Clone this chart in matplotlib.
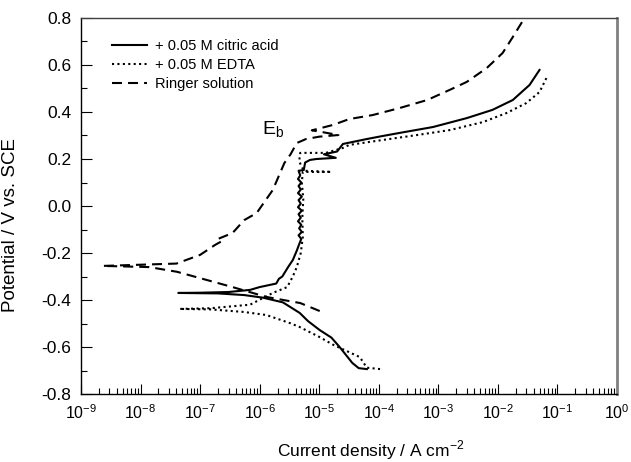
import matplotlib
matplotlib.use("Agg")
import matplotlib.pyplot as plt
from matplotlib.ticker import LogLocator, LogFormatterMathtext, MultipleLocator, FormatStrFormatter, NullFormatter

plt.rcParams['font.family'] = ['Liberation Sans', 'DejaVu Sans']
plt.rcParams['mathtext.fontset'] = 'custom'
plt.rcParams['mathtext.rm'] = 'Liberation Sans'
plt.rcParams['axes.unicode_minus'] = False

# citric acid (solid): cathodic tail -> Ecorr -> anodic branch
citric_i = [6.3e-5, 4.6e-5, 3.6e-5, 2.2e-5, 1.6e-5, 1.02e-5, 6.5e-6, 4.7e-6, 2.45e-6, 1.13e-6,
            5.5e-7, 2e-7, 4.3e-8,
            1e-7, 3e-7, 6.9e-7, 1.0e-6, 1.9e-6, 2.1e-6, 2.4e-6, 3.0e-6, 3.6e-6, 4.2e-6, 4.7e-6,
            5.0e-6, 4.5e-6, 5.1e-6, 4.6e-6, 5.0e-6, 4.4e-6, 4.9e-6, 4.5e-6, 5.1e-6, 4.4e-6,
            4.9e-6, 4.5e-6, 5.1e-6, 4.4e-6, 4.9e-6, 4.5e-6, 5.0e-6, 4.4e-6, 4.8e-6, 4.5e-6,
            5.5e-6, 5.8e-6, 7e-6, 9e-6, 1.9e-5, 1.2e-5, 2.0e-5, 2.5e-5,
            6.3e-5, 1.17e-4, 2.24e-4, 8.1e-4, 3.0e-3, 8.1e-3, 1.78e-2, 3.4e-2, 5.0e-2]
citric_E = [-0.694, -0.69, -0.668, -0.60, -0.56, -0.528, -0.49, -0.455, -0.41, -0.39,
            -0.379, -0.372, -0.37,
            -0.369, -0.366, -0.357, -0.345, -0.33, -0.31, -0.30, -0.26, -0.23, -0.19, -0.157,
            -0.14, -0.125, -0.11, -0.095, -0.08, -0.065, -0.05, -0.035, -0.02, -0.005,
            0.01, 0.025, 0.04, 0.055, 0.07, 0.085, 0.10, 0.115, 0.13, 0.15,
            0.153, 0.185, 0.196, 0.20, 0.205, 0.22, 0.232, 0.264,
            0.285, 0.298, 0.311, 0.336, 0.374, 0.409, 0.451, 0.515, 0.579]

# EDTA (dotted)
edta_i = [1.05e-4, 6.3e-5, 4.8e-5, 1.7e-5, 1.0e-5, 4.7e-6, 3.2e-6, 1.3e-6, 5.5e-7, 1.5e-7, 4.5e-8,
          1.5e-7, 6.9e-7, 1.66e-6, 2.9e-6, 3.6e-6, 4.2e-6, 4.9e-6, 5.3e-6,
          5.2e-6, 5.4e-6, 5.1e-6, 5.3e-6, 1.6e-5, 5.5e-6, 4.6e-6, 4.8e-6, 1.3e-5, 2.5e-5,
          3.2e-5, 1.17e-4, 4.4e-4, 1.55e-3, 5.6e-3, 1.41e-2, 3.0e-2, 5.0e-2, 6.9e-2]
edta_E = [-0.694, -0.688, -0.643, -0.59, -0.557, -0.515, -0.498, -0.464, -0.451, -0.44, -0.438,
          -0.435, -0.42, -0.37, -0.345, -0.30, -0.26, -0.20, -0.132,
          -0.05, 0.03, 0.10, 0.145, 0.145, 0.15, 0.19, 0.226, 0.226, 0.247,
          0.26, 0.281, 0.302, 0.323, 0.357, 0.396, 0.438, 0.485, 0.557]

# Ringer solution (dashed)
ringer_i = [1.02e-5, 4.8e-6, 1.3e-6, 3.5e-7, 4.1e-8, 1.4e-8, 5e-9, 2.3e-9,
            4e-8, 1e-7, 1.8e-7, 2.3e-7, 2.0e-7, 3.5e-7, 5.5e-7, 8.9e-7, 1.66e-6, 2.6e-6, 3.3e-6, 4.2e-6,
            6e-6, 1e-5, 2.1e-5, 1.1e-5, 7.5e-6, 1.2e-5, 1.7e-5, 3.2e-5,
            7.9e-5, 2.25e-4, 6.5e-4, 1.55e-3, 3.0e-3, 6.5e-3, 1.2e-2, 1.78e-2, 2.8e-2]
ringer_E = [-0.447, -0.413, -0.387, -0.345, -0.28, -0.26, -0.257, -0.255,
            -0.245, -0.208, -0.165, -0.150, -0.140, -0.115, -0.06, -0.03, 0.068, 0.183, 0.22, 0.268,
            0.285, 0.295, 0.302, 0.315, 0.322, 0.335, 0.345, 0.370,
            0.387, 0.417, 0.451, 0.494, 0.528, 0.587, 0.651, 0.719, 0.80]

fig = plt.figure(figsize=(6.31, 4.62), dpi=100)
ax = fig.add_axes([81 / 631, 1 - 394 / 462, 536 / 631, 376 / 462])

ax.plot(citric_i, citric_E, color='black', lw=1.5, ls='-', label='+ 0.05 M citric acid')
ax.plot(edta_i, edta_E, color='black', lw=1.5, dashes=(1, 1.6), label='+ 0.05 M EDTA')
ax.plot(ringer_i, ringer_E, color='black', lw=1.5, dashes=(4.8, 2.9), label='Ringer solution')

ax.set_xscale('log')
ax.set_xlim(1e-9, 1)
ax.set_ylim(-0.8, 0.8)

ax.xaxis.set_major_locator(LogLocator(base=10, numticks=20))
ax.xaxis.set_minor_locator(LogLocator(base=10, subs=range(2, 10), numticks=20))
ax.xaxis.set_major_formatter(LogFormatterMathtext())
ax.xaxis.set_minor_formatter(NullFormatter())
ax.yaxis.set_major_locator(MultipleLocator(0.2))
ax.yaxis.set_minor_locator(MultipleLocator(0.1))
ax.yaxis.set_major_formatter(FormatStrFormatter('%.1f'))

ax.tick_params(axis='x', which='major', direction='in', length=7, width=0.8, labelsize=11.5, pad=7)
ax.tick_params(axis='x', which='minor', direction='in', length=4, width=0.8)
ax.tick_params(axis='y', which='major', direction='in', length=8, width=0.8, labelsize=12.5, pad=7)
ax.tick_params(axis='y', which='minor', direction='in', length=4.3, width=0.8)

ax.spines['left'].set_linewidth(1.0)
ax.spines['bottom'].set_linewidth(1.0)
ax.spines['top'].set_color('#404040')
ax.spines['top'].set_linewidth(1.0)
ax.spines['right'].set_color('#808080')
ax.spines['right'].set_linewidth(2.0)

ax.set_ylabel('Potential / V vs. SCE', fontsize=13.5)
ax.yaxis.set_label_coords(-0.115, 0.45)
ax.set_xlabel('Current density / A cm$^{\\mathregular{-2}}$', fontsize=12.5)
ax.xaxis.set_label_coords(0.54, -0.118)

ax.text(1.09e-6, 0.302, 'E$_{\\mathregular{b}}$', fontsize=14, ha='left', va='baseline')

ax.legend(loc='upper left', bbox_to_anchor=(0.057, 0.944), frameon=False, fontsize=10.5,
          handlelength=2.4, handletextpad=0.55, labelspacing=0.33, borderpad=0, borderaxespad=0)

fig.savefig('out.png', dpi=100)
